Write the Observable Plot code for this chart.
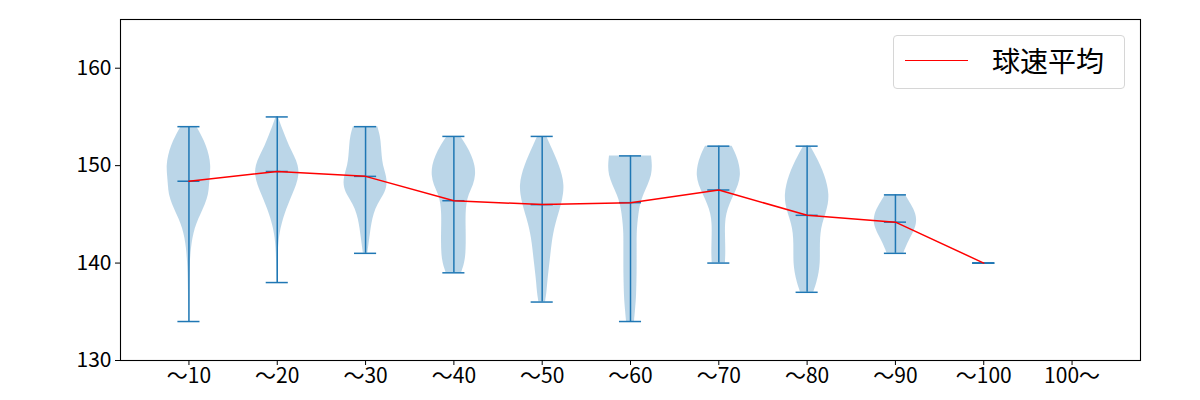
<!DOCTYPE html>
<html><head><meta charset="utf-8">
<script src="https://cdn.jsdelivr.net/npm/d3@7"></script>
<script src="https://cdn.jsdelivr.net/npm/@observablehq/plot@0.6"></script>
<style>
body{margin:0;background:#fff;font-family:"Noto Sans CJK JP",sans-serif;}
#wrap{position:relative;width:1200px;height:400px;}
#legend{position:absolute;left:893px;top:35px;width:232px;height:54px;border:1px solid #d6d6d6;border-radius:4px;box-sizing:border-box;background:rgba(255,255,255,0.8);}
#legend .ln{position:absolute;left:11px;top:24px;width:63px;height:0;border-top:1.5px solid #ff0000;}
#legend .tx{position:absolute;left:98px;top:4px;font-size:28px;line-height:40px;color:#000;white-space:nowrap;}
</style></head><body><div id="wrap"></div>
<script>
const categories = ["～10","～20","～30","～40","～50","～60","～70","～80","～90","～100","100～"];
const maxV  = [154, 155, 154, 153, 153, 151, 152, 152, 147, 140, null];
const minV  = [134, 138, 141, 139, 136, 134, 140, 137, 141, 140, null];
const meanV = [148.4, 149.4, 148.9, 146.4, 146.0, 146.2, 147.5, 144.9, 144.2, 140.0, null];
const yTicks = [130, 140, 150, 160];
const legendLabel = "球速平均";

// relative violin widths, one per 1 km/h step from the max down to the min
const w10 = [0.35,0.6,0.8,0.93,1.0,0.97,0.93,0.9,0.75,0.55,0.35,0.22,0.14,0.09,0.06,0.04,0.03,0.02,0.02,0.01,0.01];
const w20 = [0.05,0.2,0.38,0.55,0.78,0.97,1.0,0.88,0.7,0.52,0.35,0.22,0.12,0.07,0.04,0.03,0.02,0.01];
const w30 = [0.55,0.68,0.72,0.75,0.8,0.95,1.0,0.85,0.55,0.38,0.28,0.22,0.16,0.1];
const w40 = [0.3,0.6,0.82,0.97,1.0,0.9,0.68,0.58,0.55,0.55,0.56,0.56,0.55,0.5,0.35];
const w50 = [0.2,0.4,0.6,0.78,0.92,1.0,0.97,0.88,0.75,0.62,0.52,0.45,0.4,0.35,0.3,0.25,0.22,0.15];
const w60 = [0.95,1.0,0.97,0.8,0.6,0.45,0.38,0.33,0.3,0.3,0.3,0.3,0.3,0.29,0.28,0.26,0.22,0.18];
const w70 = [0.6,0.82,0.95,1.0,0.9,0.7,0.5,0.35,0.3,0.3,0.31,0.32,0.3];
const w80 = [0.15,0.4,0.62,0.8,0.93,1.0,0.97,0.85,0.7,0.62,0.6,0.6,0.6,0.55,0.45,0.3];
const w90 = [0.45,0.72,0.95,0.98,0.8,0.55,0.38];
const violinWidths = [w10,w20,w30,w40,w50,w60,w70,w80,w90,null,null];

const pos = categories.map((_, i) => i + 1);
const stats = pos.map((p, i) => ({p, max: maxV[i], min: minV[i], mean: meanV[i]})).filter(d => d.max != null);
const rows = [];
violinWidths.forEach((ws, i) => {
  if (!ws) return;
  ws.forEach((w, j) => rows.push({p: i + 1, y: maxV[i] - j, w}));
});
const meanRows = stats.filter(d => d.mean != null);
const C0 = "#1f77b4";

const chart = Plot.plot({
  width: 1200, height: 400,
  marginLeft: 120, marginRight: 60, marginTop: 19, marginBottom: 40,
  style: {fontFamily: "'Noto Sans CJK JP', sans-serif", fontSize: "21px", color: "#000", background: "#fff"},
  x: {domain: [0.225, 11.775]},
  y: {domain: [130, 165]},
  marks: [
    Plot.areaX(rows, {y: "y", x1: d => d.p - 0.25 * d.w, x2: d => d.p + 0.25 * d.w, z: "p", fill: C0, fillOpacity: 0.3, curve: "basis"}),
    Plot.ruleX(stats, {x: "p", y1: "min", y2: "max", stroke: C0, strokeWidth: 1.5}),
    Plot.ruleY(stats, {y: "max", x1: d => d.p - 0.125, x2: d => d.p + 0.125, stroke: C0, strokeWidth: 1.5}),
    Plot.ruleY(stats, {y: "min", x1: d => d.p - 0.125, x2: d => d.p + 0.125, stroke: C0, strokeWidth: 1.5}),
    Plot.ruleY(stats, {y: "mean", x1: d => d.p - 0.125, x2: d => d.p + 0.125, stroke: C0, strokeWidth: 1.5}),
    Plot.line(meanRows, {x: "p", y: "mean", stroke: "#ff0000", strokeWidth: 1.5}),
    Plot.frame({stroke: "#000", strokeWidth: 1.1}),
    Plot.axisX({ticks: pos, tickFormat: d => categories[d - 1], tickSize: 5, tickPadding: 3, label: null, stroke: "#000"}),
    Plot.axisY({ticks: yTicks, tickSize: 5, tickPadding: 4, label: null, stroke: "#000"})
  ]
});
const wrap = document.getElementById("wrap");
wrap.appendChild(chart);
const lg = document.createElement("div");
lg.id = "legend";
lg.innerHTML = '<div class="ln"></div><div class="tx"></div>';
lg.querySelector(".tx").textContent = legendLabel;
wrap.appendChild(lg);
</script>
</body></html>
